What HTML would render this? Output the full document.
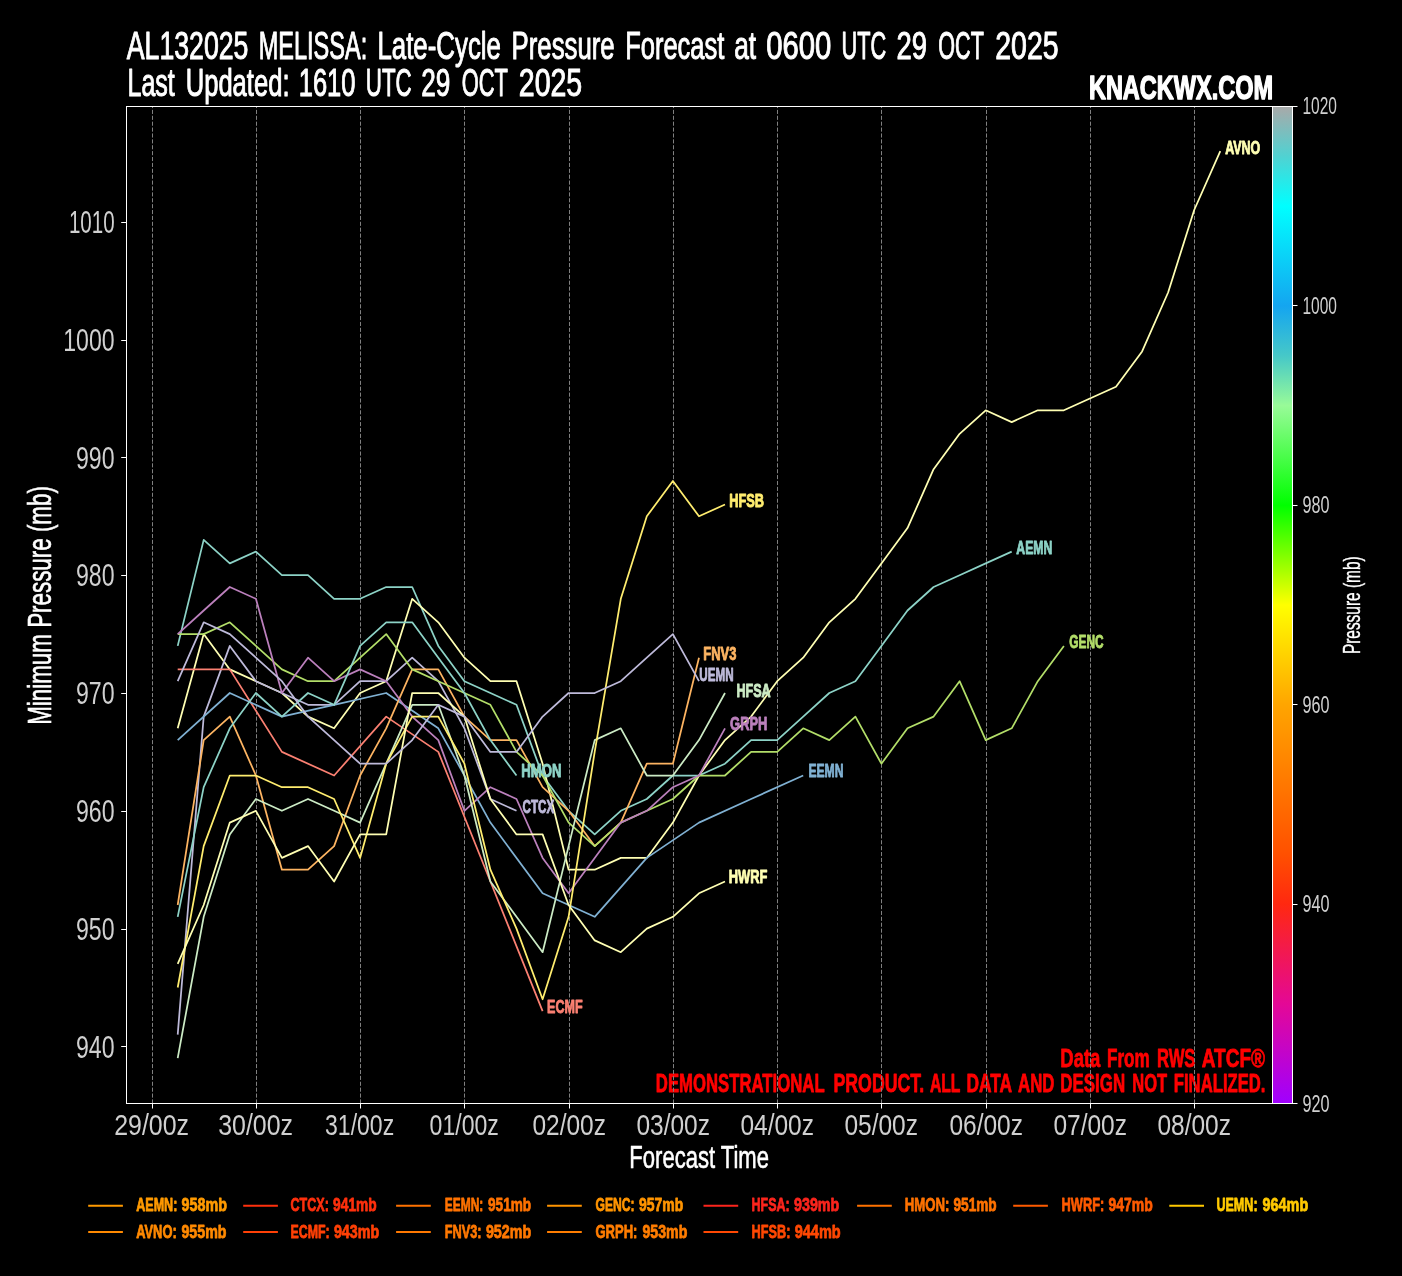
<!DOCTYPE html>
<html><head><meta charset="utf-8"><title>AL132025 MELISSA Pressure Forecast</title>
<style>html,body{margin:0;padding:0;background:#000;}body{width:1402px;height:1276px;overflow:hidden;}svg{display:block;will-change:transform}text{font-family:"Liberation Sans",sans-serif;}</style></head><body>
<svg width="1402" height="1276" viewBox="0 0 1402 1276">
<rect width="1402" height="1276" fill="#000"/>
<defs><linearGradient id="cb" x1="0" y1="0" x2="0" y2="1">
<stop offset="0.0000" stop-color="#a9a9a9"/>
<stop offset="0.0500" stop-color="#50d2d2"/>
<stop offset="0.1000" stop-color="#00ffff"/>
<stop offset="0.2000" stop-color="#14a5f0"/>
<stop offset="0.2500" stop-color="#46c8c8"/>
<stop offset="0.3000" stop-color="#98fb98"/>
<stop offset="0.4000" stop-color="#00ff00"/>
<stop offset="0.5000" stop-color="#ffff00"/>
<stop offset="0.6000" stop-color="#ffa500"/>
<stop offset="0.7500" stop-color="#ff5000"/>
<stop offset="0.8000" stop-color="#ff2810"/>
<stop offset="0.9000" stop-color="#e40896"/>
<stop offset="1.0000" stop-color="#a000ff"/>
</linearGradient></defs>
<text x="126.8" y="58.7" font-size="38.81" font-weight="normal" fill="#fff" textLength="121.6" lengthAdjust="spacingAndGlyphs" stroke="#fff" stroke-width="1.00" stroke-linejoin="round">AL132025</text>
<text x="258.7" y="58.7" font-size="38.81" font-weight="normal" fill="#fff" textLength="108.5" lengthAdjust="spacingAndGlyphs" stroke="#fff" stroke-width="1.00" stroke-linejoin="round">MELISSA:</text>
<text x="377.4" y="58.7" font-size="38.81" font-weight="normal" fill="#fff" textLength="123.6" lengthAdjust="spacingAndGlyphs" stroke="#fff" stroke-width="1.00" stroke-linejoin="round">Late-Cycle</text>
<text x="511.6" y="58.7" font-size="38.81" font-weight="normal" fill="#fff" textLength="103.1" lengthAdjust="spacingAndGlyphs" stroke="#fff" stroke-width="1.00" stroke-linejoin="round">Pressure</text>
<text x="625.2" y="58.7" font-size="38.81" font-weight="normal" fill="#fff" textLength="99.2" lengthAdjust="spacingAndGlyphs" stroke="#fff" stroke-width="1.00" stroke-linejoin="round">Forecast</text>
<text x="734.2" y="58.7" font-size="38.81" font-weight="normal" fill="#fff" textLength="21.9" lengthAdjust="spacingAndGlyphs" stroke="#fff" stroke-width="1.00" stroke-linejoin="round">at</text>
<text x="766.3" y="58.7" font-size="38.81" font-weight="normal" fill="#fff" textLength="65.1" lengthAdjust="spacingAndGlyphs" stroke="#fff" stroke-width="1.00" stroke-linejoin="round">0600</text>
<text x="841.5" y="58.7" font-size="38.81" font-weight="normal" fill="#fff" textLength="44.7" lengthAdjust="spacingAndGlyphs" stroke="#fff" stroke-width="1.00" stroke-linejoin="round">UTC</text>
<text x="896.4" y="58.7" font-size="38.81" font-weight="normal" fill="#fff" textLength="30.5" lengthAdjust="spacingAndGlyphs" stroke="#fff" stroke-width="1.00" stroke-linejoin="round">29</text>
<text x="938.3" y="58.7" font-size="38.81" font-weight="normal" fill="#fff" textLength="45.5" lengthAdjust="spacingAndGlyphs" stroke="#fff" stroke-width="1.00" stroke-linejoin="round">OCT</text>
<text x="995.2" y="58.7" font-size="38.81" font-weight="normal" fill="#fff" textLength="63.4" lengthAdjust="spacingAndGlyphs" stroke="#fff" stroke-width="1.00" stroke-linejoin="round">2025</text>
<text x="127.5" y="96.1" font-size="38.23" font-weight="normal" fill="#fff" textLength="47.3" lengthAdjust="spacingAndGlyphs" stroke="#fff" stroke-width="1.00" stroke-linejoin="round">Last</text>
<text x="185.7" y="96.1" font-size="38.23" font-weight="normal" fill="#fff" textLength="103.8" lengthAdjust="spacingAndGlyphs" stroke="#fff" stroke-width="1.00" stroke-linejoin="round">Updated:</text>
<text x="298.7" y="96.1" font-size="38.23" font-weight="normal" fill="#fff" textLength="56.8" lengthAdjust="spacingAndGlyphs" stroke="#fff" stroke-width="1.00" stroke-linejoin="round">1610</text>
<text x="365.8" y="96.1" font-size="38.23" font-weight="normal" fill="#fff" textLength="45.9" lengthAdjust="spacingAndGlyphs" stroke="#fff" stroke-width="1.00" stroke-linejoin="round">UTC</text>
<text x="421.3" y="96.1" font-size="38.23" font-weight="normal" fill="#fff" textLength="29.1" lengthAdjust="spacingAndGlyphs" stroke="#fff" stroke-width="1.00" stroke-linejoin="round">29</text>
<text x="461.7" y="96.1" font-size="38.23" font-weight="normal" fill="#fff" textLength="46.2" lengthAdjust="spacingAndGlyphs" stroke="#fff" stroke-width="1.00" stroke-linejoin="round">OCT</text>
<text x="518.8" y="96.1" font-size="38.23" font-weight="normal" fill="#fff" textLength="63.4" lengthAdjust="spacingAndGlyphs" stroke="#fff" stroke-width="1.00" stroke-linejoin="round">2025</text>
<text x="1088.9" y="99.0" font-size="34.01" font-weight="bold" fill="#fff" textLength="184.2" lengthAdjust="spacingAndGlyphs" stroke="#fff" stroke-width="1.50" stroke-linejoin="round">KNACKWX.COM</text>
<text x="1060.3" y="1067.0" font-size="25.29" font-weight="bold" fill="#ff0000" textLength="40.1" lengthAdjust="spacingAndGlyphs" stroke="#ff0000" stroke-width="0.80" stroke-linejoin="round">Data</text>
<text x="1107.0" y="1067.0" font-size="25.29" font-weight="bold" fill="#ff0000" textLength="42.8" lengthAdjust="spacingAndGlyphs" stroke="#ff0000" stroke-width="0.80" stroke-linejoin="round">From</text>
<text x="1156.9" y="1067.0" font-size="25.29" font-weight="bold" fill="#ff0000" textLength="38.6" lengthAdjust="spacingAndGlyphs" stroke="#ff0000" stroke-width="0.80" stroke-linejoin="round">RWS</text>
<text x="1201.8" y="1067.0" font-size="25.29" font-weight="bold" fill="#ff0000" textLength="63.3" lengthAdjust="spacingAndGlyphs" stroke="#ff0000" stroke-width="0.80" stroke-linejoin="round">ATCF®</text>
<text x="655.8" y="1091.6" font-size="25.29" font-weight="bold" fill="#ff0000" textLength="168.8" lengthAdjust="spacingAndGlyphs" stroke="#ff0000" stroke-width="0.80" stroke-linejoin="round">DEMONSTRATIONAL</text>
<text x="833.5" y="1091.6" font-size="25.29" font-weight="bold" fill="#ff0000" textLength="90.6" lengthAdjust="spacingAndGlyphs" stroke="#ff0000" stroke-width="0.80" stroke-linejoin="round">PRODUCT.</text>
<text x="929.9" y="1091.6" font-size="25.29" font-weight="bold" fill="#ff0000" textLength="30.6" lengthAdjust="spacingAndGlyphs" stroke="#ff0000" stroke-width="0.80" stroke-linejoin="round">ALL</text>
<text x="966.4" y="1091.6" font-size="25.29" font-weight="bold" fill="#ff0000" textLength="45.7" lengthAdjust="spacingAndGlyphs" stroke="#ff0000" stroke-width="0.80" stroke-linejoin="round">DATA</text>
<text x="1018.1" y="1091.6" font-size="25.29" font-weight="bold" fill="#ff0000" textLength="36.3" lengthAdjust="spacingAndGlyphs" stroke="#ff0000" stroke-width="0.80" stroke-linejoin="round">AND</text>
<text x="1060.3" y="1091.6" font-size="25.29" font-weight="bold" fill="#ff0000" textLength="64.8" lengthAdjust="spacingAndGlyphs" stroke="#ff0000" stroke-width="0.80" stroke-linejoin="round">DESIGN</text>
<text x="1132.2" y="1091.6" font-size="25.29" font-weight="bold" fill="#ff0000" textLength="34.9" lengthAdjust="spacingAndGlyphs" stroke="#ff0000" stroke-width="0.80" stroke-linejoin="round">NOT</text>
<text x="1173.8" y="1091.6" font-size="25.29" font-weight="bold" fill="#ff0000" textLength="91.7" lengthAdjust="spacingAndGlyphs" stroke="#ff0000" stroke-width="0.80" stroke-linejoin="round">FINALIZED.</text>
<line x1="152.50" y1="1103.5" x2="152.50" y2="106.5" stroke="#808080" stroke-width="1" stroke-dasharray="4.11 1.78"/>
<line x1="256.50" y1="1103.5" x2="256.50" y2="106.5" stroke="#808080" stroke-width="1" stroke-dasharray="4.11 1.78"/>
<line x1="360.50" y1="1103.5" x2="360.50" y2="106.5" stroke="#808080" stroke-width="1" stroke-dasharray="4.11 1.78"/>
<line x1="464.50" y1="1103.5" x2="464.50" y2="106.5" stroke="#808080" stroke-width="1" stroke-dasharray="4.11 1.78"/>
<line x1="569.50" y1="1103.5" x2="569.50" y2="106.5" stroke="#808080" stroke-width="1" stroke-dasharray="4.11 1.78"/>
<line x1="673.50" y1="1103.5" x2="673.50" y2="106.5" stroke="#808080" stroke-width="1" stroke-dasharray="4.11 1.78"/>
<line x1="777.50" y1="1103.5" x2="777.50" y2="106.5" stroke="#808080" stroke-width="1" stroke-dasharray="4.11 1.78"/>
<line x1="881.50" y1="1103.5" x2="881.50" y2="106.5" stroke="#808080" stroke-width="1" stroke-dasharray="4.11 1.78"/>
<line x1="986.50" y1="1103.5" x2="986.50" y2="106.5" stroke="#808080" stroke-width="1" stroke-dasharray="4.11 1.78"/>
<line x1="1090.50" y1="1103.5" x2="1090.50" y2="106.5" stroke="#808080" stroke-width="1" stroke-dasharray="4.11 1.78"/>
<line x1="1194.50" y1="1103.5" x2="1194.50" y2="106.5" stroke="#808080" stroke-width="1" stroke-dasharray="4.11 1.78"/>
<polyline points="177.7,645.9 203.7,539.9 229.8,563.4 255.9,551.6 281.9,575.2 308.0,575.2 334.1,598.8 360.1,598.8 386.2,587.0 412.2,587.0 438.3,645.9 464.4,681.2 490.4,693.0 516.5,704.8 542.6,775.5 568.6,810.8 594.7,834.4 620.8,810.8 646.8,799.0 672.9,775.5 699.0,775.5 725.0,763.7 751.1,740.1 777.2,740.1 803.2,716.6 829.3,693.0 855.4,681.2 881.4,645.9 907.5,610.5 933.6,587.0 959.6,575.2 985.7,563.4 1011.7,551.6" fill="none" stroke="#8dd3c7" stroke-width="1.75" stroke-linejoin="round" stroke-linecap="butt"/>
<polyline points="177.7,728.3 203.7,634.1 229.8,669.4 255.9,681.2 281.9,693.0 308.0,716.6 334.1,728.3 360.1,693.0 386.2,681.2 412.2,598.8 438.3,622.3 464.4,657.7 490.4,681.2 516.5,681.2 542.6,763.7 568.6,869.7 594.7,869.7 620.8,857.9 646.8,857.9 672.9,822.6 699.0,775.5 725.0,740.1 751.1,716.6 777.2,681.2 803.2,657.7 829.3,622.3 855.4,598.8 881.4,563.4 907.5,528.1 933.6,469.2 959.6,433.8 985.7,410.3 1011.7,422.1 1037.8,410.3 1063.9,410.3 1089.9,398.5 1116.0,386.7 1142.1,351.4 1168.1,292.5 1194.2,210.0 1220.3,151.1" fill="none" stroke="#ffffb3" stroke-width="1.75" stroke-linejoin="round" stroke-linecap="butt"/>
<polyline points="177.7,1034.6 203.7,716.6 229.8,645.9 255.9,681.2 281.9,693.0 308.0,704.8 334.1,704.8 360.1,681.2 386.2,681.2 412.2,657.7 438.3,681.2 464.4,728.3 490.4,799.0 516.5,810.8" fill="none" stroke="#bebada" stroke-width="1.75" stroke-linejoin="round" stroke-linecap="butt"/>
<polyline points="177.7,669.4 229.8,669.4 281.9,751.9 334.1,775.5 386.2,716.6 438.3,751.9 490.4,881.5 542.6,1011.1" fill="none" stroke="#fb8072" stroke-width="1.75" stroke-linejoin="round" stroke-linecap="butt"/>
<polyline points="177.7,740.1 229.8,693.0 281.9,716.6 334.1,704.8 386.2,693.0 438.3,728.3 490.4,822.6 542.6,893.3 594.7,916.8 646.8,857.9 699.0,822.6 751.1,799.0 803.2,775.5" fill="none" stroke="#80b1d3" stroke-width="1.75" stroke-linejoin="round" stroke-linecap="butt"/>
<polyline points="177.7,905.0 203.7,740.1 229.8,716.6 255.9,775.5 281.9,869.7 308.0,869.7 334.1,846.1 360.1,775.5 386.2,728.3 412.2,669.4 438.3,669.4 464.4,716.6 490.4,740.1 516.5,740.1 542.6,787.2 568.6,810.8 594.7,846.1 620.8,822.6 646.8,763.7 672.9,763.7 699.0,657.7" fill="none" stroke="#fdb462" stroke-width="1.75" stroke-linejoin="round" stroke-linecap="butt"/>
<polyline points="177.7,634.1 203.7,634.1 229.8,622.3 255.9,645.9 281.9,669.4 308.0,681.2 334.1,681.2 360.1,657.7 386.2,634.1 412.2,669.4 438.3,681.2 464.4,693.0 490.4,704.8 516.5,751.9 542.6,775.5 568.6,822.6 594.7,846.1 620.8,822.6 646.8,810.8 672.9,799.0 699.0,775.5 725.0,775.5 751.1,751.9 777.2,751.9 803.2,728.3 829.3,740.1 855.4,716.6 881.4,763.7 907.5,728.3 933.6,716.6 959.6,681.2 985.7,740.1 1011.7,728.3 1037.8,681.2 1063.9,645.9" fill="none" stroke="#b3de69" stroke-width="1.75" stroke-linejoin="round" stroke-linecap="butt"/>
<polyline points="177.7,634.1 203.7,610.5 229.8,587.0 255.9,598.8 281.9,693.0 308.0,657.7 334.1,681.2 360.1,669.4 386.2,681.2 412.2,716.6 438.3,740.1 464.4,810.8 490.4,787.2 516.5,799.0 542.6,857.9 568.6,893.3 594.7,857.9 620.8,822.6 646.8,810.8 672.9,787.2 699.0,775.5 725.0,728.3" fill="none" stroke="#bc80bd" stroke-width="1.75" stroke-linejoin="round" stroke-linecap="butt"/>
<polyline points="177.7,1058.2 203.7,916.8 229.8,834.4 255.9,799.0 281.9,810.8 308.0,799.0 334.1,810.8 360.1,822.6 386.2,763.7 412.2,704.8 438.3,704.8 464.4,775.5 490.4,881.5 516.5,916.8 542.6,952.2 568.6,846.1 594.7,740.1 620.8,728.3 646.8,775.5 672.9,775.5 699.0,740.1 725.0,693.0" fill="none" stroke="#ccebc5" stroke-width="1.75" stroke-linejoin="round" stroke-linecap="butt"/>
<polyline points="177.7,987.5 203.7,846.1 229.8,775.5 255.9,775.5 281.9,787.2 308.0,787.2 334.1,799.0 360.1,857.9 386.2,763.7 412.2,716.6 438.3,716.6 464.4,763.7 490.4,869.7 516.5,928.6 542.6,999.3 568.6,916.8 594.7,751.9 620.8,598.8 646.8,516.3 672.9,481.0 699.0,516.3 725.0,504.5" fill="none" stroke="#ffed6f" stroke-width="1.75" stroke-linejoin="round" stroke-linecap="butt"/>
<polyline points="177.7,916.8 203.7,787.2 229.8,728.3 255.9,693.0 281.9,716.6 308.0,693.0 334.1,704.8 360.1,645.9 386.2,622.3 412.2,622.3 438.3,657.7 464.4,693.0 490.4,740.1 516.5,775.5" fill="none" stroke="#8dd3c7" stroke-width="1.75" stroke-linejoin="round" stroke-linecap="butt"/>
<polyline points="177.7,963.9 203.7,905.0 229.8,822.6 255.9,810.8 281.9,857.9 308.0,846.1 334.1,881.5 360.1,834.4 386.2,834.4 412.2,693.0 438.3,693.0 464.4,716.6 490.4,799.0 516.5,834.4 542.6,834.4 568.6,905.0 594.7,940.4 620.8,952.2 646.8,928.6 672.9,916.8 699.0,893.3 725.0,881.5" fill="none" stroke="#ffffb3" stroke-width="1.75" stroke-linejoin="round" stroke-linecap="butt"/>
<polyline points="177.7,681.2 203.7,622.3 229.8,634.1 255.9,657.7 281.9,681.2 308.0,716.6 334.1,740.1 360.1,763.7 386.2,763.7 412.2,740.1 438.3,704.8 464.4,716.6 490.4,751.9 516.5,751.9 542.6,716.6 568.6,693.0 594.7,693.0 620.8,681.2 646.8,657.7 672.9,634.1 699.0,681.2" fill="none" stroke="#bebada" stroke-width="1.75" stroke-linejoin="round" stroke-linecap="butt"/>
<text x="1016.3" y="554.0" font-size="18.46" font-weight="bold" fill="#8dd3c7" textLength="36.0" lengthAdjust="spacingAndGlyphs" stroke="#8dd3c7" stroke-width="0.90" stroke-linejoin="round">AEMN</text>
<text x="1225.2" y="153.6" font-size="18.46" font-weight="bold" fill="#ffffb3" textLength="35.1" lengthAdjust="spacingAndGlyphs" stroke="#ffffb3" stroke-width="0.90" stroke-linejoin="round">AVNO</text>
<text x="522.6" y="813.1" font-size="18.46" font-weight="bold" fill="#bebada" textLength="31.6" lengthAdjust="spacingAndGlyphs" stroke="#bebada" stroke-width="0.90" stroke-linejoin="round">CTCX</text>
<text x="547.1" y="1012.8" font-size="18.46" font-weight="bold" fill="#fb8072" textLength="35.5" lengthAdjust="spacingAndGlyphs" stroke="#fb8072" stroke-width="0.90" stroke-linejoin="round">ECMF</text>
<text x="808.4" y="777.2" font-size="18.46" font-weight="bold" fill="#80b1d3" textLength="35.0" lengthAdjust="spacingAndGlyphs" stroke="#80b1d3" stroke-width="0.90" stroke-linejoin="round">EEMN</text>
<text x="703.3" y="660.4" font-size="18.46" font-weight="bold" fill="#fdb462" textLength="33.1" lengthAdjust="spacingAndGlyphs" stroke="#fdb462" stroke-width="0.90" stroke-linejoin="round">FNV3</text>
<text x="1069.3" y="648.3" font-size="18.46" font-weight="bold" fill="#b3de69" textLength="34.3" lengthAdjust="spacingAndGlyphs" stroke="#b3de69" stroke-width="0.90" stroke-linejoin="round">GENC</text>
<text x="730.1" y="729.7" font-size="18.46" font-weight="bold" fill="#bc80bd" textLength="37.3" lengthAdjust="spacingAndGlyphs" stroke="#bc80bd" stroke-width="0.90" stroke-linejoin="round">GRPH</text>
<text x="736.4" y="696.9" font-size="18.46" font-weight="bold" fill="#ccebc5" textLength="34.3" lengthAdjust="spacingAndGlyphs" stroke="#ccebc5" stroke-width="0.90" stroke-linejoin="round">HFSA</text>
<text x="729.3" y="507.3" font-size="18.46" font-weight="bold" fill="#ffed6f" textLength="34.8" lengthAdjust="spacingAndGlyphs" stroke="#ffed6f" stroke-width="0.90" stroke-linejoin="round">HFSB</text>
<text x="521.3" y="777.2" font-size="18.46" font-weight="bold" fill="#8dd3c7" textLength="40.1" lengthAdjust="spacingAndGlyphs" stroke="#8dd3c7" stroke-width="0.90" stroke-linejoin="round">HMON</text>
<text x="728.8" y="883.2" font-size="18.46" font-weight="bold" fill="#ffffb3" textLength="38.6" lengthAdjust="spacingAndGlyphs" stroke="#ffffb3" stroke-width="0.90" stroke-linejoin="round">HWRF</text>
<text x="699.3" y="681.1" font-size="18.46" font-weight="bold" fill="#bebada" textLength="34.3" lengthAdjust="spacingAndGlyphs" stroke="#bebada" stroke-width="0.90" stroke-linejoin="round">UEMN</text>
<rect x="126.5" y="106.5" width="1146.0" height="997.0" fill="none" stroke="#fff" stroke-width="1"/>
<rect x="1272.5" y="106.5" width="20.0" height="997.0" fill="url(#cb)" stroke="#fff" stroke-width="1"/>
<line x1="1292.5" y1="106.5" x2="1297.5" y2="106.5" stroke="#fff" stroke-width="1"/>
<text x="1302.4" y="113.9" font-size="23.98" font-weight="normal" fill="#d0d0d0" textLength="34.5" lengthAdjust="spacingAndGlyphs">1020</text>
<line x1="1292.5" y1="305.5" x2="1297.5" y2="305.5" stroke="#fff" stroke-width="1"/>
<text x="1302.4" y="313.5" font-size="23.98" font-weight="normal" fill="#d0d0d0" textLength="34.5" lengthAdjust="spacingAndGlyphs">1000</text>
<line x1="1292.5" y1="505.5" x2="1297.5" y2="505.5" stroke="#fff" stroke-width="1"/>
<text x="1302.4" y="513.1" font-size="23.98" font-weight="normal" fill="#d0d0d0" textLength="27.0" lengthAdjust="spacingAndGlyphs">980</text>
<line x1="1292.5" y1="704.5" x2="1297.5" y2="704.5" stroke="#fff" stroke-width="1"/>
<text x="1302.4" y="712.7" font-size="23.98" font-weight="normal" fill="#d0d0d0" textLength="27.0" lengthAdjust="spacingAndGlyphs">960</text>
<line x1="1292.5" y1="904.5" x2="1297.5" y2="904.5" stroke="#fff" stroke-width="1"/>
<text x="1302.4" y="912.3" font-size="23.98" font-weight="normal" fill="#d0d0d0" textLength="27.0" lengthAdjust="spacingAndGlyphs">940</text>
<line x1="1292.5" y1="1103.5" x2="1297.5" y2="1103.5" stroke="#fff" stroke-width="1"/>
<text x="1302.4" y="1111.9" font-size="23.98" font-weight="normal" fill="#d0d0d0" textLength="27.0" lengthAdjust="spacingAndGlyphs">920</text>
<text transform="translate(1360.0 654.1) rotate(-90)" x="0" y="0" font-size="24.71" font-weight="normal" fill="#fff" textLength="97.7" lengthAdjust="spacingAndGlyphs" stroke="#fff" stroke-width="0.40">Pressure (mb)</text>
<line x1="121.2" y1="1046.5" x2="126.5" y2="1046.5" stroke="#fff" stroke-width="1"/>
<text x="76.0" y="1057.6" font-size="30.52" font-weight="normal" fill="#d0d0d0" textLength="38.6" lengthAdjust="spacingAndGlyphs">940</text>
<line x1="121.2" y1="929.5" x2="126.5" y2="929.5" stroke="#fff" stroke-width="1"/>
<text x="76.0" y="939.8" font-size="30.52" font-weight="normal" fill="#d0d0d0" textLength="38.6" lengthAdjust="spacingAndGlyphs">950</text>
<line x1="121.2" y1="811.5" x2="126.5" y2="811.5" stroke="#fff" stroke-width="1"/>
<text x="76.0" y="822.0" font-size="30.52" font-weight="normal" fill="#d0d0d0" textLength="38.6" lengthAdjust="spacingAndGlyphs">960</text>
<line x1="121.2" y1="693.5" x2="126.5" y2="693.5" stroke="#fff" stroke-width="1"/>
<text x="76.0" y="704.2" font-size="30.52" font-weight="normal" fill="#d0d0d0" textLength="38.6" lengthAdjust="spacingAndGlyphs">970</text>
<line x1="121.2" y1="575.5" x2="126.5" y2="575.5" stroke="#fff" stroke-width="1"/>
<text x="76.0" y="586.4" font-size="30.52" font-weight="normal" fill="#d0d0d0" textLength="38.6" lengthAdjust="spacingAndGlyphs">980</text>
<line x1="121.2" y1="457.5" x2="126.5" y2="457.5" stroke="#fff" stroke-width="1"/>
<text x="76.0" y="468.6" font-size="30.52" font-weight="normal" fill="#d0d0d0" textLength="38.6" lengthAdjust="spacingAndGlyphs">990</text>
<line x1="121.2" y1="340.5" x2="126.5" y2="340.5" stroke="#fff" stroke-width="1"/>
<text x="63.3" y="350.8" font-size="30.52" font-weight="normal" fill="#d0d0d0" textLength="51.3" lengthAdjust="spacingAndGlyphs">1000</text>
<line x1="121.2" y1="222.5" x2="126.5" y2="222.5" stroke="#fff" stroke-width="1"/>
<text x="68.9" y="233.0" font-size="30.52" font-weight="normal" fill="#d0d0d0" textLength="45.7" lengthAdjust="spacingAndGlyphs">1010</text>
<text transform="translate(51.4 724.8) rotate(-90)" x="0" y="0" font-size="32.41" font-weight="normal" fill="#fff" textLength="238.7" lengthAdjust="spacingAndGlyphs" stroke="#fff" stroke-width="0.60">Minimum Pressure (mb)</text>
<line x1="152.50" y1="1103.5" x2="152.50" y2="1108.5" stroke="#fff" stroke-width="1"/>
<text x="114.2" y="1134.8" font-size="29.94" font-weight="normal" fill="#d0d0d0" textLength="74.8" lengthAdjust="spacingAndGlyphs">29/00z</text>
<line x1="256.50" y1="1103.5" x2="256.50" y2="1108.5" stroke="#fff" stroke-width="1"/>
<text x="218.2" y="1134.8" font-size="29.94" font-weight="normal" fill="#d0d0d0" textLength="74.8" lengthAdjust="spacingAndGlyphs">30/00z</text>
<line x1="360.50" y1="1103.5" x2="360.50" y2="1108.5" stroke="#fff" stroke-width="1"/>
<text x="325.0" y="1134.8" font-size="29.94" font-weight="normal" fill="#d0d0d0" textLength="69.2" lengthAdjust="spacingAndGlyphs">31/00z</text>
<line x1="464.50" y1="1103.5" x2="464.50" y2="1108.5" stroke="#fff" stroke-width="1"/>
<text x="429.6" y="1134.8" font-size="29.94" font-weight="normal" fill="#d0d0d0" textLength="69.2" lengthAdjust="spacingAndGlyphs">01/00z</text>
<line x1="569.50" y1="1103.5" x2="569.50" y2="1108.5" stroke="#fff" stroke-width="1"/>
<text x="532.4" y="1134.8" font-size="29.94" font-weight="normal" fill="#d0d0d0" textLength="73.6" lengthAdjust="spacingAndGlyphs">02/00z</text>
<line x1="673.50" y1="1103.5" x2="673.50" y2="1108.5" stroke="#fff" stroke-width="1"/>
<text x="636.4" y="1134.8" font-size="29.94" font-weight="normal" fill="#d0d0d0" textLength="73.6" lengthAdjust="spacingAndGlyphs">03/00z</text>
<line x1="777.50" y1="1103.5" x2="777.50" y2="1108.5" stroke="#fff" stroke-width="1"/>
<text x="740.4" y="1134.8" font-size="29.94" font-weight="normal" fill="#d0d0d0" textLength="73.6" lengthAdjust="spacingAndGlyphs">04/00z</text>
<line x1="881.50" y1="1103.5" x2="881.50" y2="1108.5" stroke="#fff" stroke-width="1"/>
<text x="844.4" y="1134.8" font-size="29.94" font-weight="normal" fill="#d0d0d0" textLength="73.6" lengthAdjust="spacingAndGlyphs">05/00z</text>
<line x1="986.50" y1="1103.5" x2="986.50" y2="1108.5" stroke="#fff" stroke-width="1"/>
<text x="949.4" y="1134.8" font-size="29.94" font-weight="normal" fill="#d0d0d0" textLength="73.6" lengthAdjust="spacingAndGlyphs">06/00z</text>
<line x1="1090.50" y1="1103.5" x2="1090.50" y2="1108.5" stroke="#fff" stroke-width="1"/>
<text x="1053.4" y="1134.8" font-size="29.94" font-weight="normal" fill="#d0d0d0" textLength="73.6" lengthAdjust="spacingAndGlyphs">07/00z</text>
<line x1="1194.50" y1="1103.5" x2="1194.50" y2="1108.5" stroke="#fff" stroke-width="1"/>
<text x="1157.4" y="1134.8" font-size="29.94" font-weight="normal" fill="#d0d0d0" textLength="73.6" lengthAdjust="spacingAndGlyphs">08/00z</text>
<text x="629.3" y="1167.7" font-size="31.40" font-weight="normal" fill="#fff" textLength="139.7" lengthAdjust="spacingAndGlyphs" stroke="#fff" stroke-width="0.60" stroke-linejoin="round">Forecast Time</text>
<line x1="88.2" y1="1205.7" x2="122.9" y2="1205.7" stroke="#ff9a00" stroke-width="2"/>
<text x="136.2" y="1211.4" font-size="18.31" font-weight="bold" fill="#ff9a00" textLength="41.2" lengthAdjust="spacingAndGlyphs" stroke="#ff9a00" stroke-width="0.80" stroke-linejoin="round">AEMN:</text>
<text x="181.6" y="1211.4" font-size="18.31" font-weight="bold" fill="#ff9a00" textLength="45.4" lengthAdjust="spacingAndGlyphs" stroke="#ff9a00" stroke-width="0.80" stroke-linejoin="round">958mb</text>
<line x1="88.2" y1="1231.9" x2="122.9" y2="1231.9" stroke="#ff8900" stroke-width="2"/>
<text x="136.2" y="1237.6" font-size="18.31" font-weight="bold" fill="#ff8900" textLength="40.5" lengthAdjust="spacingAndGlyphs" stroke="#ff8900" stroke-width="0.80" stroke-linejoin="round">AVNO:</text>
<text x="181.4" y="1237.6" font-size="18.31" font-weight="bold" fill="#ff8900" textLength="45.1" lengthAdjust="spacingAndGlyphs" stroke="#ff8900" stroke-width="0.80" stroke-linejoin="round">955mb</text>
<line x1="243.2" y1="1205.7" x2="277.9" y2="1205.7" stroke="#ff300d" stroke-width="2"/>
<text x="290.5" y="1211.4" font-size="18.31" font-weight="bold" fill="#ff300d" textLength="38.4" lengthAdjust="spacingAndGlyphs" stroke="#ff300d" stroke-width="0.80" stroke-linejoin="round">CTCX:</text>
<text x="333.1" y="1211.4" font-size="18.31" font-weight="bold" fill="#ff300d" textLength="43.6" lengthAdjust="spacingAndGlyphs" stroke="#ff300d" stroke-width="0.80" stroke-linejoin="round">941mb</text>
<line x1="243.2" y1="1231.9" x2="277.9" y2="1231.9" stroke="#ff4006" stroke-width="2"/>
<text x="290.5" y="1237.6" font-size="18.31" font-weight="bold" fill="#ff4006" textLength="39.2" lengthAdjust="spacingAndGlyphs" stroke="#ff4006" stroke-width="0.80" stroke-linejoin="round">ECMF:</text>
<text x="333.9" y="1237.6" font-size="18.31" font-weight="bold" fill="#ff4006" textLength="45.3" lengthAdjust="spacingAndGlyphs" stroke="#ff4006" stroke-width="0.80" stroke-linejoin="round">943mb</text>
<line x1="396.1" y1="1205.7" x2="430.8" y2="1205.7" stroke="#ff7200" stroke-width="2"/>
<text x="444.8" y="1211.4" font-size="18.31" font-weight="bold" fill="#ff7200" textLength="38.5" lengthAdjust="spacingAndGlyphs" stroke="#ff7200" stroke-width="0.80" stroke-linejoin="round">EEMN:</text>
<text x="488.0" y="1211.4" font-size="18.31" font-weight="bold" fill="#ff7200" textLength="43.2" lengthAdjust="spacingAndGlyphs" stroke="#ff7200" stroke-width="0.80" stroke-linejoin="round">951mb</text>
<line x1="396.1" y1="1231.9" x2="430.8" y2="1231.9" stroke="#ff7800" stroke-width="2"/>
<text x="444.8" y="1237.6" font-size="18.31" font-weight="bold" fill="#ff7800" textLength="36.8" lengthAdjust="spacingAndGlyphs" stroke="#ff7800" stroke-width="0.80" stroke-linejoin="round">FNV3:</text>
<text x="485.9" y="1237.6" font-size="18.31" font-weight="bold" fill="#ff7800" textLength="45.3" lengthAdjust="spacingAndGlyphs" stroke="#ff7800" stroke-width="0.80" stroke-linejoin="round">952mb</text>
<line x1="547.1" y1="1205.7" x2="581.8" y2="1205.7" stroke="#ff9400" stroke-width="2"/>
<text x="595.5" y="1211.4" font-size="18.31" font-weight="bold" fill="#ff9400" textLength="39.1" lengthAdjust="spacingAndGlyphs" stroke="#ff9400" stroke-width="0.80" stroke-linejoin="round">GENC:</text>
<text x="639.0" y="1211.4" font-size="18.31" font-weight="bold" fill="#ff9400" textLength="44.2" lengthAdjust="spacingAndGlyphs" stroke="#ff9400" stroke-width="0.80" stroke-linejoin="round">957mb</text>
<line x1="547.1" y1="1231.9" x2="581.8" y2="1231.9" stroke="#ff7d00" stroke-width="2"/>
<text x="595.5" y="1237.6" font-size="18.31" font-weight="bold" fill="#ff7d00" textLength="41.9" lengthAdjust="spacingAndGlyphs" stroke="#ff7d00" stroke-width="0.80" stroke-linejoin="round">GRPH:</text>
<text x="642.4" y="1237.6" font-size="18.31" font-weight="bold" fill="#ff7d00" textLength="44.9" lengthAdjust="spacingAndGlyphs" stroke="#ff7d00" stroke-width="0.80" stroke-linejoin="round">953mb</text>
<line x1="703.5" y1="1205.7" x2="738.2" y2="1205.7" stroke="#fc251d" stroke-width="2"/>
<text x="751.6" y="1211.4" font-size="18.31" font-weight="bold" fill="#fc251d" textLength="38.1" lengthAdjust="spacingAndGlyphs" stroke="#fc251d" stroke-width="0.80" stroke-linejoin="round">HFSA:</text>
<text x="794.0" y="1211.4" font-size="18.31" font-weight="bold" fill="#fc251d" textLength="45.3" lengthAdjust="spacingAndGlyphs" stroke="#fc251d" stroke-width="0.80" stroke-linejoin="round">939mb</text>
<line x1="703.5" y1="1231.9" x2="738.2" y2="1231.9" stroke="#ff4803" stroke-width="2"/>
<text x="751.6" y="1237.6" font-size="18.31" font-weight="bold" fill="#ff4803" textLength="38.8" lengthAdjust="spacingAndGlyphs" stroke="#ff4803" stroke-width="0.80" stroke-linejoin="round">HFSB:</text>
<text x="794.7" y="1237.6" font-size="18.31" font-weight="bold" fill="#ff4803" textLength="46.0" lengthAdjust="spacingAndGlyphs" stroke="#ff4803" stroke-width="0.80" stroke-linejoin="round">944mb</text>
<line x1="857.1" y1="1205.7" x2="891.8" y2="1205.7" stroke="#ff7200" stroke-width="2"/>
<text x="904.8" y="1211.4" font-size="18.31" font-weight="bold" fill="#ff7200" textLength="44.7" lengthAdjust="spacingAndGlyphs" stroke="#ff7200" stroke-width="0.80" stroke-linejoin="round">HMON:</text>
<text x="953.5" y="1211.4" font-size="18.31" font-weight="bold" fill="#ff7200" textLength="43.2" lengthAdjust="spacingAndGlyphs" stroke="#ff7200" stroke-width="0.80" stroke-linejoin="round">951mb</text>
<line x1="1013.2" y1="1205.7" x2="1047.9" y2="1205.7" stroke="#ff5b00" stroke-width="2"/>
<text x="1061.6" y="1211.4" font-size="18.31" font-weight="bold" fill="#ff5b00" textLength="42.6" lengthAdjust="spacingAndGlyphs" stroke="#ff5b00" stroke-width="0.80" stroke-linejoin="round">HWRF:</text>
<text x="1108.5" y="1211.4" font-size="18.31" font-weight="bold" fill="#ff5b00" textLength="44.3" lengthAdjust="spacingAndGlyphs" stroke="#ff5b00" stroke-width="0.80" stroke-linejoin="round">947mb</text>
<line x1="1169.3" y1="1205.7" x2="1204.0" y2="1205.7" stroke="#ffc900" stroke-width="2"/>
<text x="1216.4" y="1211.4" font-size="18.31" font-weight="bold" fill="#ffc900" textLength="41.2" lengthAdjust="spacingAndGlyphs" stroke="#ffc900" stroke-width="0.80" stroke-linejoin="round">UEMN:</text>
<text x="1262.6" y="1211.4" font-size="18.31" font-weight="bold" fill="#ffc900" textLength="45.6" lengthAdjust="spacingAndGlyphs" stroke="#ffc900" stroke-width="0.80" stroke-linejoin="round">964mb</text>
</svg></body></html>
